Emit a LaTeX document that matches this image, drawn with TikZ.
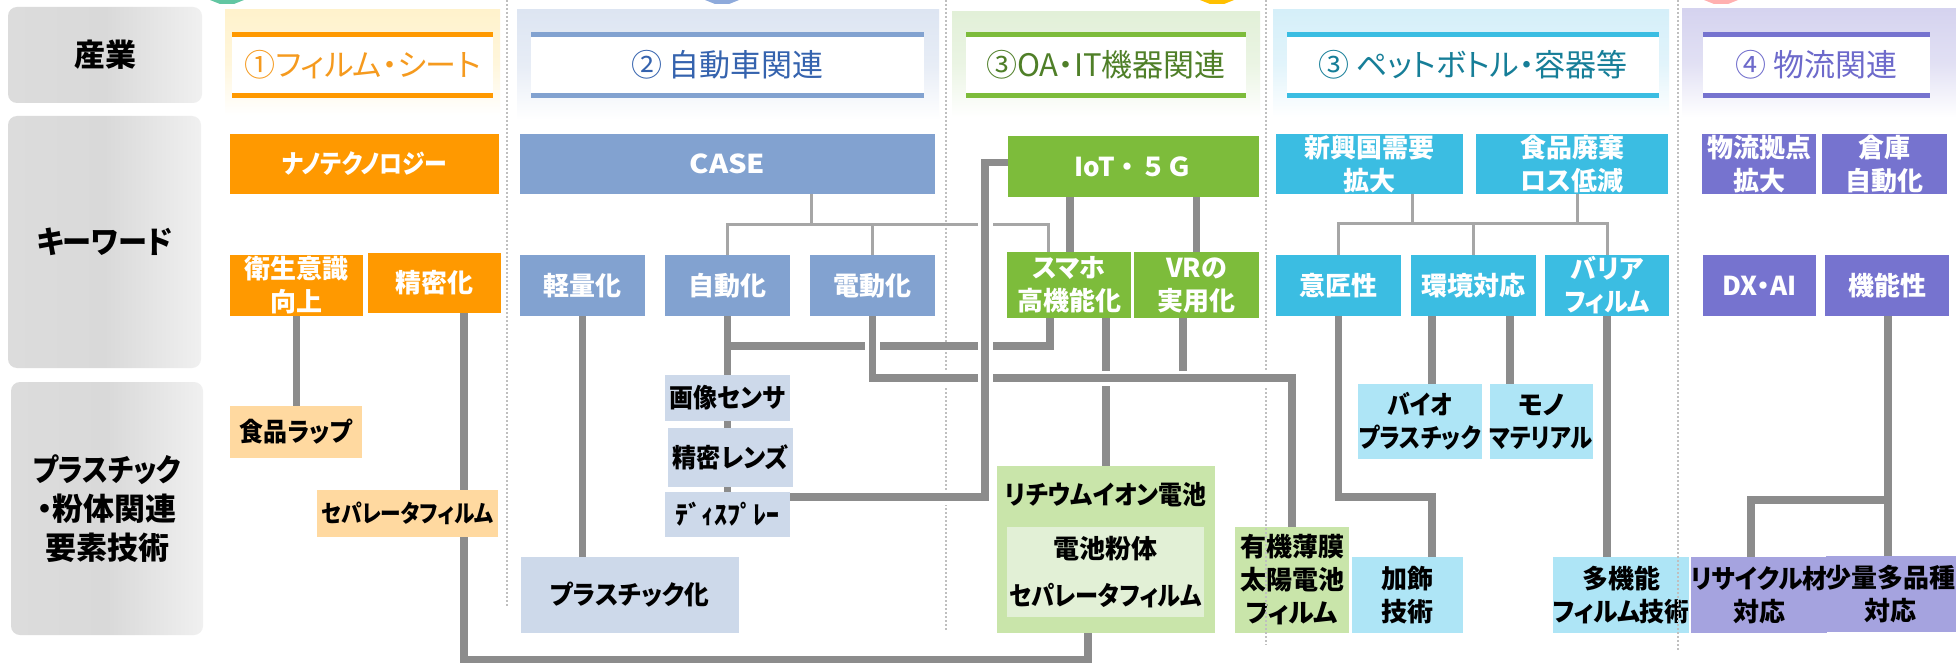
\documentclass[tikz,border=0pt]{standalone}
\usepackage{fontspec}
\usepackage{graphicx}
\setmainfont{Noto Sans CJK JP}[RawFeature={+palt}]
\usetikzlibrary{calc}
\definecolor{orA}{HTML}{FF9900}
\definecolor{orL}{HTML}{FFD9A0}
\definecolor{orT}{HTML}{F59A1E}
\definecolor{orBg}{HTML}{FFF2CC}
\definecolor{blA}{HTML}{82A2D0}
\definecolor{blL}{HTML}{CDD9EA}
\definecolor{blT}{HTML}{3563AE}
\definecolor{blBg}{HTML}{DDE5F2}
\definecolor{grA}{HTML}{7DBC3B}
\definecolor{grL}{HTML}{C9E5AA}
\definecolor{grLL}{HTML}{E2F0D6}
\definecolor{grT}{HTML}{4F7F28}
\definecolor{grBg}{HTML}{E2F0D8}
\definecolor{cyA}{HTML}{3BBDE2}
\definecolor{cyL}{HTML}{AEE5F6}
\definecolor{cyT}{HTML}{167E98}
\definecolor{cyBg}{HTML}{D5EFF9}
\definecolor{puA}{HTML}{7673CF}
\definecolor{puL}{HTML}{A5A3DF}
\definecolor{puT}{HTML}{6D6ACB}
\definecolor{puBg}{HTML}{D5D3EF}
\definecolor{lineg}{HTML}{8C8C8C}
\definecolor{treeg}{HTML}{A6A6A6}
\definecolor{sepg}{HTML}{BFBFBF}
\definecolor{labL}{HTML}{DCDCDC}
\definecolor{labM}{HTML}{D9D9D9}
\definecolor{labR}{HTML}{F0F0F0}
\definecolor{arG}{HTML}{62C6A2}
\definecolor{arB}{HTML}{8EAADB}
\definecolor{arY}{HTML}{FFC000}
\definecolor{arP}{HTML}{FFB0B0}
\newcommand\nx[2]{\scalebox{#1}[1]{#2}}
\newcommand\bx[7]{%
  \pgfmathsetmacro\bxcx{(#3+#5)/2}%
  \pgfmathsetmacro\bxcy{(#4+#6)/2}%
  \pgfmathsetmacro\bxw{#5-#3}%
  \pgfmathsetmacro\bxh{#6-#4}%
  \node[#1,minimum width=\bxw pt,minimum height=\bxh pt] (#2) at (\bxcx,\bxcy) {#7};}
\tikzset{
  base/.style={inner sep=0pt, outer sep=0pt, align=center},
  kwtxt/.style={font=\fontsize{26}{33}\selectfont\bfseries},
  kw/.style={base, kwtxt, text=white},
  tk/.style={base, kwtxt, text=black},
  lab/.style={base, rounded corners=9pt, left color=labL, right color=labR, middle color=labM, font=\fontsize{31}{39}\selectfont\bfseries},
  hd/.style={base, fill=white, font=\fontsize{31}{36}\selectfont},
  conn/.style={draw=lineg, line width=7.5pt},
  tree/.style={draw=treeg, line width=3pt},
  gap/.style={preaction={draw=white, line width=15pt}},
  sepline/.style={draw=sepg, line width=2pt, dash pattern=on 2pt off 2pt},
}
\begin{document}
\begin{tikzpicture}[x=1pt,y=-1pt]
\useasboundingbox (0,0) rectangle (1956,663);
\fill[white] (0,0) rectangle (1956,663);

% top arrow tips
\fill[arG] (210,0) -- (244,0) -- (234,4) -- (220,4) -- cycle;
\fill[arB] (705,0) -- (739,0) -- (729,4) -- (715,4) -- cycle;
\fill[arY] (1200,0) -- (1234,0) -- (1224,4) -- (1210,4) -- cycle;
\fill[arP] (1704,0) -- (1738,0) -- (1728,4) -- (1714,4) -- cycle;

% header backgrounds
\shade[top color=orBg, bottom color=white, middle color=orBg!70] (225,10) rectangle (500,115);
\shade[top color=blBg, bottom color=white, middle color=blBg!70] (517,10) rectangle (939,120);
\shade[top color=grBg, bottom color=white, middle color=grBg!70] (952,12) rectangle (1260,117);
\shade[top color=cyBg, bottom color=white, middle color=cyBg!70] (1273,10) rectangle (1669,117);
\shade[top color=puBg, bottom color=white, middle color=puBg!70] (1682,9) rectangle (1956,117);

% left labels
\bx{lab}{l1}{8}{7}{202}{103}{産業}
\bx{lab}{l2}{8}{116}{201}{368}{\nx{0.94}{キーワード}}
\bx{lab}{l3}{11}{382}{203}{635}{\nx{0.88}{プラスチック}\\・粉体関連\\要素技術}

% headers
\bx{hd, text=orT}{h1}{232}{31.7}{493}{98.3}{①フィルム・シート}
\bx{hd, text=blT}{h2}{531}{31.7}{924}{98.3}{② 自動車関連}
\bx{hd, text=grT}{h3}{966}{31.7}{1246}{98.3}{③OA・IT機器関連}
\bx{hd, text=cyT}{h4}{1287}{31.7}{1659}{98.3}{③ ペットボトル・容器等}
\bx{hd, text=puT}{h5}{1703}{31.7}{1930}{98.3}{④ 物流関連}
\foreach \h/\c in {h1/orA,h2/blA,h3/grA,h4/cyA,h5/puA}{
  \fill[\c] (\h.north west) rectangle ([yshift=-5.6pt]\h.north east);
  \fill[\c] ([yshift=5.6pt]\h.south west) rectangle (\h.south east);
}

% column 1
\bx{kw, fill=orA}{nano}{230}{134}{499}{194}{\nx{0.88}{ナノテクノロジー}}
\bx{kw, fill=orA}{eisei}{230}{255}{363}{316}{衛生意識\\向上}
\bx{kw, fill=orA}{seimitsu}{368}{253}{501}{313}{精密化}
\bx{tk, fill=orL}{shokuhin}{230}{406}{362}{458}{\nx{0.92}{食品ラップ}}
\bx{tk, fill=orL, font=\fontsize{24}{30}\selectfont\bfseries}{sepa}{317}{490}{498}{537}{\nx{0.86}{セパレータフィルム}}

% column 2
\bx{kw, fill=blA}{case}{520}{134}{935}{194}{\nx{1.12}{CASE}}
\bx{kw, fill=blA}{keiryou}{520}{255}{645}{316}{軽量化}
\bx{kw, fill=blA}{jidou}{665}{255}{790}{316}{自動化}
\bx{kw, fill=blA}{dendou}{810}{255}{935}{316}{電動化}
\bx{tk, fill=blL}{gazou}{665}{375}{790}{421}{\nx{0.92}{画像センサ}}
\bx{tk, fill=blL}{lens}{668}{428}{793}{487}{\nx{0.93}{精密レンズ}}
\bx{tk, fill=blL}{disp}{665}{492}{790}{537}{ﾃﾞｨｽﾌﾟﾚｰ}
\bx{tk, fill=blL}{plas}{521}{557}{739}{633}{\nx{0.95}{プラスチック化}}

% column 3
\bx{kw, fill=grA}{iot}{1008}{136}{1259}{197}{{\addfontfeature{RawFeature=-palt}IoT・５Ｇ}}
\bx{kw, fill=grA}{sumaho}{1007}{252}{1131}{318}{スマホ\\高機能化}
\bx{kw, fill=grA}{vr}{1134}{252}{1259}{318}{VRの\\実用化}
\bx{tk, fill=grL}{li}{997}{466}{1215}{633}{}
\node[tk] (litxt) at (1106,495) {\nx{0.92}{リチウムイオン電池}};
\bx{tk, fill=grLL, font=\fontsize{26}{47}\selectfont\bfseries}{liin}{1007}{527}{1204}{617}{電池粉体\\\nx{0.89}{セパレータフィルム}}
\bx{tk, fill=grL}{yuki}{1235}{527}{1349}{633}{有機薄膜\\太陽電池\\フィルム}

% column 4
\bx{kw, fill=cyA}{shinko}{1276}{134}{1463}{194}{新興国需要\\拡大}
\bx{kw, fill=cyA}{haiki}{1476}{134}{1668}{194}{食品廃棄\\ロス低減}
\bx{kw, fill=cyA}{ishou}{1276}{255}{1401}{316}{意匠性}
\bx{kw, fill=cyA}{kankyo}{1411}{255}{1536}{316}{環境対応}
\bx{kw, fill=cyA}{barrier}{1545}{255}{1669}{316}{バリア\\\nx{0.92}{フィルム}}
\bx{tk, fill=cyL}{bio}{1358}{384}{1482}{459}{\nx{0.88}{バイオ}\\\nx{0.86}{プラスチック}}
\bx{tk, fill=cyL}{mono}{1490}{384}{1592}{459}{モノ\\\nx{0.86}{マテリアル}}
\bx{tk, fill=cyL}{kashoku}{1352}{557}{1463}{633}{加飾\\技術}
\bx{tk, fill=cyL}{tak}{1559}{557}{1683}{633}{多機能\\\nx{0.95}{フィルム技術}}

% column 5
\bx{kw, fill=puA}{butsuryu}{1702}{134}{1816}{194}{物流拠点\\拡大}
\bx{kw, fill=puA}{souko}{1822}{134}{1947}{194}{倉庫\\自動化}
\bx{kw, fill=puA}{dx}{1703}{255}{1816}{316}{DX・AI}
\bx{kw, fill=puA}{kinou}{1825}{255}{1949}{316}{機能性}
\bx{tk, fill=puL}{recycle}{1697}{557}{1821}{633}{\nx{0.95}{リサイクル材}\\対応}
\bx{tk, fill=puL}{shoryo}{1828}{556}{1953}{632}{少量多品種\\対応}

% separators
\draw[sepline] (507,0) -- (507,607);
\draw[sepline] (946,0) -- (946,630);
\draw[sepline] (1266,0) -- (1266,645);
\draw[sepline] (1678,0) -- (1678,650);

% thin tree connectors
\coordinate (t2) at (811,224);
\coordinate (casedrop) at ([xshift=83.5pt]case.south);
\coordinate (sumtree) at ([xshift=-21pt]sumaho.north);
\draw[tree] (casedrop) -- (t2);
\draw[tree] (jidou.north) |- (t2);
\draw[tree] (dendou.north) -- (dendou.north |- t2);
\draw[tree] (sumtree) |- (t2);
\coordinate (t4) at (1473.5,223);
\coordinate (shdrop) at ([xshift=42.5pt]shinko.south);
\coordinate (hkdrop) at ([xshift=5pt]haiki.south);
\draw[tree] (shdrop) -- (shdrop |- t4);
\draw[tree] (hkdrop) -- (hkdrop |- t4);
\draw[tree] (ishou.north) |- (t4) -| (barrier.north);
\draw[tree] (kankyo.north) -- (t4);

% thick connectors, column 1
\draw[conn] (eisei.south) -- (eisei.south |- shokuhin.north);
\coordinate (sm) at ([xshift=29.5pt]seimitsu.south);
\coordinate (b1) at (700,659.5);
\coordinate (lidrop) at ([xshift=-18pt]li.south);
\draw[conn] (sm) -- (sm |- sepa.north);
\draw[conn] (sm |- sepa.south) |- (b1) -| (lidrop);

% column 2
\draw[conn] (keiryou.south) -- (keiryou.south |- plas.north);
\draw[conn] (jidou.south) -- (gazou.north);
\draw[conn] (gazou.south) -- (gazou.south |- lens.north);
\draw[conn] (disp.north |- lens.south) -- (disp.north);
\coordinate (j3) at (800,346);
\coordinate (sumA) at ([xshift=-19pt]sumaho.south);
\coordinate (sumB) at ([xshift=37pt]sumaho.south);
\coordinate (vrA) at ([xshift=-13.5pt]vr.south);
\draw[conn] (sumA) |- (jidou.south |- j3);
\draw[conn] (sumB) -- (li.north);
\coordinate (j4) at (1000,378);
\draw[conn] (vrA) -- (vrA |- j4);
\draw[conn, gap] (dendou.south) |- (j4) -| (yuki.north);
\coordinate (j5) at (985,300);
\coordinate (iotw) at ([yshift=4pt]iot.west);
\coordinate (dispe) at ([yshift=17.5pt]disp.east);
\draw[conn, gap] (iotw) -| (j5) |- (dispe);
\coordinate (iotA) at ([xshift=-63.5pt]iot.south);
\draw[conn] (iotA) -- (iotA |- sumaho.north);
\draw[conn] (vr.north |- iot.south) -- (vr.north);

% column 4
\coordinate (j6) at (1400,497);
\coordinate (kaA) at ([xshift=24.5pt]kashoku.north);
\draw[conn] (ishou.south) |- (j6) -| (kaA);
\coordinate (kkA) at ([xshift=-41.5pt]kankyo.south);
\coordinate (kkB) at ([xshift=36.5pt]kankyo.south);
\draw[conn] (kkA) -- (kkA |- bio.north);
\draw[conn] (kkB) -- (kkB |- mono.north);
\draw[conn] (barrier.south) -- (barrier.south |- tak.north);

% column 5
\coordinate (knA) at ([xshift=1pt]kinou.south);
\coordinate (knB) at ([xshift=4.5pt]kinou.south);
\coordinate (j7) at (1800,500);
\coordinate (rcA) at ([xshift=-8pt]recycle.north);
\draw[conn] (knA) -- (knA |- shoryo.north);
\draw[conn] (knB |- j7) -| (rcA);
\end{tikzpicture}
\end{document}
